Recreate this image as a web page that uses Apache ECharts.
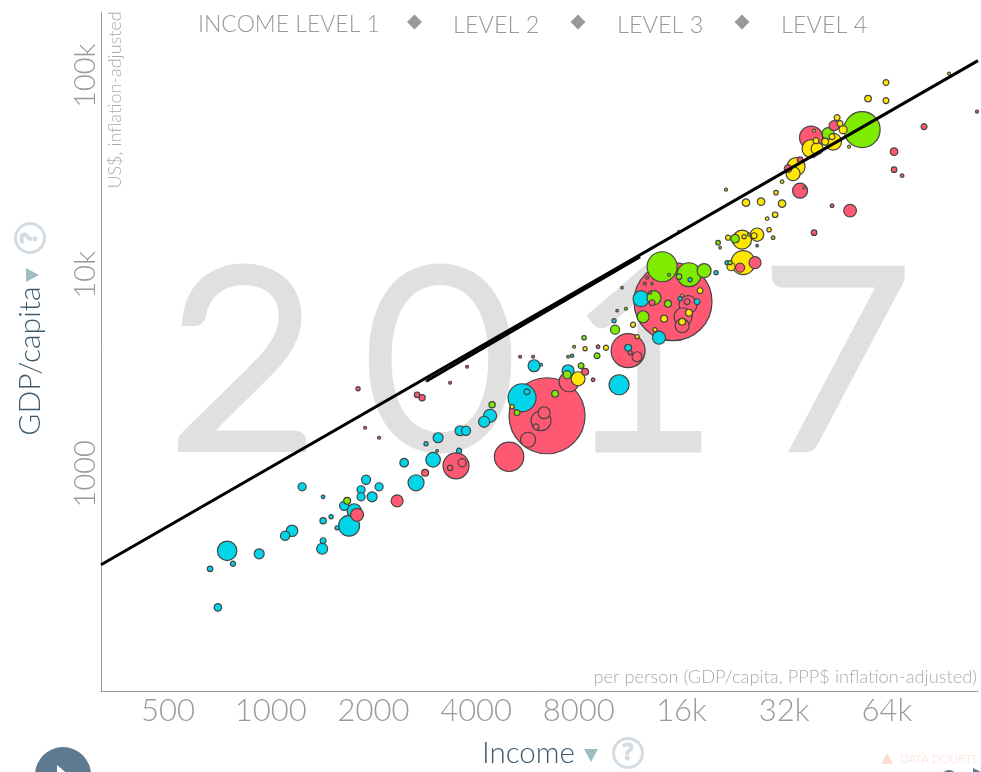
<!DOCTYPE html>
<html>
	<head>
		<meta charset="UTF-8">
		<title>GDP/capita vs Income 2017</title>
		<script src="https://cdn.jsdelivr.net/npm/echarts@6/dist/echarts.min.js"></script>
		<style>
			html, body { margin: 0; padding: 0; background: #fff; overflow: hidden; }
			#chart { width: 981px; height: 772px; }
		</style>
	</head>
	<body>
		<div id="chart"></div>
		<script>
		// each bubble: [income, gdp per capita, population in millions]
		var africa = [[6200,3530,2],[5916,3490,33],[5456,2410,180],[5640,2583,8],[4396,1956,39],[4222,1825,28],[3737,1645,19],[3590,1645,23],[3095,1517,23],[2853,1415,4],[3074,1305,1.5],[3566,1305,6],[2992,1176,49],[2461,1136,17],[2667,901,59],[1903,933,19],[2078,860,15],[1840,831,15],[1840,766,15],[1983,766,23],[1697,548,101],[1756,652,45],[1641,690,19],[1565,535,4],[1424,580,9],[1503,608,4],[1424,766,3],[1236,860,15],[1155,517,30],[1102,488,20],[1424,461,8],[1415,420,28],[925,396,23],[745,410,87],[775,353,6],[664,333,7],[700,213,13],[7441,3294,33],[7646,3917,2.7],[10500,2800,92],[13750,4825,39],[12180,7580,59],[10150,5875,4],[11160,4298,11],[15850,7580,4],[17780,7320,8],[16950,9443,4],[20210,10240,4],[21770,11500,4],[26650,13990,1.5]];
		var americas = [[54140,53590,300],[14040,10970,207],[16830,10000,132],[18640,10480,45],[15740,9775,7],[14710,10000,2],[13120,9020,1.3],[10710,8607,1.5],[13290,7667,45],[14610,7156,11],[12350,6150,33],[10360,6597,1.5],[11000,6750,2],[10220,5294,19],[8290,4825,4.5],[7750,4348,2],[9050,3917,8],[7441,3872,2],[8124,3490,8],[7392,3145,15],[6816,2525,11],[5275,2026,8],[4456,2223,9],[1675,731,11],[21610,26760,2],[29700,15350,3],[22970,15170,17],[20480,14490,5],[20760,13670,1.5],[22210,11500,4],[43030,51170,33],[25240,15900,2]];
		var asia = [[15110,7320,1400],[6456,1956,1330],[11160,4152,266],[4997,1217,199],[3493,1096,155],[3639,1136,15],[3356,1071,7],[2835,1012,11],[2347,731,33],[1791,622,39],[2686,2494,7],[2778,2410,9],[1803,2675,4],[1891,1703,2],[2078,1517,2],[3356,2867,2],[3764,3449,2],[2873,2934,1.3],[5383,3872,2],[5876,3872,2],[6329,2026,33],[6200,1847,92],[5994,1722,8],[5680,1482,52],[7490,2900,92],[8346,3255,11],[8810,2968,3],[9110,4348,3],[11310,4057,4],[11860,3872,23],[13120,7237,8],[12940,8125,2],[12680,9664,2],[12500,9020,2],[16610,7320,8],[16720,7072,75],[16170,6150,75],[16070,5544,45],[26290,11500,33],[23760,10850,19],[35630,26450,52],[38370,48850,122],[44820,56100,23],[32850,34120,13],[35630,37870,7],[117600,66000,2],[82270,55470,8],[67190,41540,13],[67190,33730,7],[70920,31460,3],[44210,22230,3],[49930,20990,37],[39150,16270,7]];
		var europe = [[38370,43010,75],[39960,43010,33],[45740,61570,8],[46670,57460,8],[47630,53590,15],[44510,46640,66],[42180,46640,11],[44210,49400,8],[39680,47180,8],[39150,52970,2],[49590,44010,2],[56370,76720,10],[63630,92350,8],[63630,74970,8],[97390,102500,2],[34670,34910,75],[33980,32210,45],[31550,29360,3],[36610,27380,1.5],[30290,25840,4.5],[24730,23030,13],[27380,23290,13],[31550,22770,13],[30100,20020,7],[28520,19130,3],[28900,16840,4.5],[15740,16450,2],[26650,15900,41],[24080,15000,83],[21910,15350,6],[24410,15530,4],[26120,15710,8],[24250,11500,132],[22360,10970,15],[18140,8315,8],[16070,7845,2],[16830,6446,11],[16070,5806,11],[14230,6012,11],[11540,5606,6],[13380,5294,4],[11860,4880,4],[8346,4249,4],[9613,4298,6],[7960,3002,45],[5100,2170,4]];

		var trendLine = [[318,349],[118400,119100]];
		var trendOverlap = [[2873,2934],[12100,12320]];

		var xTicks = [500,1000,2000,4000,8000,16000,32000,64000];
		var yTicks = [1000,10000,100000];
		var legendItems = ['INCOME LEVEL 1','LEVEL 2','LEVEL 3','LEVEL 4'];
		var year = ['2','0','1','7'];

		var regionColors = ['#00d5e9','#7feb00','#ff5872','#ffe700'];
		var gray = '#999999';
		var thin = 'Lato';
		var dark = '#3f5a6c';
		var ring = '#d3dce3';
		var teal = '#9fbdc3';

		function fmt(v) {
			return v >= 10000 ? (v / 1000) + 'k' : String(v);
		}

		// biggest first so small countries stay on top
		var bubbles = [];
		[africa, americas, asia, europe].forEach(function (list, region) {
			list.forEach(function (d) {
				bubbles.push([d[0], d[1], d[2], region]);
			});
		});
		bubbles.sort(function (a, b) { return b[2] - a[2]; });

		function label(text, x, y, size, color, extra) {
			var st = { text: text, x: 0, y: 0, font: '300 ' + size + 'px ' + thin, fill: color, textAlign: 'left', textVerticalAlign: 'middle' };
			for (var k in (extra && extra.style)) st[k] = extra.style[k];
			return { type: 'text', x: x, y: y, rotation: (extra && extra.rotation) || 0, z: 5, silent: true, style: st };
		}
		function digit(text, x) {
			return { type: 'text', x: x, y: 366, scaleX: 1.04, z: -10, silent: true, style: {
				text: text, font: '100 238px Lato', fill: '#e0e0e0', stroke: '#e0e0e0', lineWidth: 19, lineJoin: 'round',
				textAlign: 'center', textVerticalAlign: 'middle'
			} };
		}
		function diamond(x) {
			return { type: 'polygon', z: 5, silent: true, shape: { points: [[x, 14.5], [x + 7.5, 22], [x, 29.5], [x - 7.5, 22]] }, style: { fill: gray } };
		}
		function helpRing(x, y, rot) {
			return [
				{ type: 'circle', z: 5, silent: true, shape: { cx: x, cy: y, r: 14.5 }, style: { fill: '#fff', stroke: ring, lineWidth: 3 } },
				{ type: 'text', x: x, y: y, rotation: rot, z: 6, silent: true, style: { text: '?', font: 'bold 23px "Noto Sans"', fill: ring, stroke: ring, lineWidth: 1, textAlign: 'center', textVerticalAlign: 'middle' } }
			];
		}

		var graphics = [
			digit(year[0], 243), digit(year[1], 440), digit(year[2], 642), digit(year[3], 836),
			label(legendItems[0], 198, 25, 23, gray),
			label(legendItems[1], 453, 25, 23.5, gray),
			label(legendItems[2], 617, 25, 23.5, gray),
			label(legendItems[3], 781, 25, 23.5, gray),
			diamond(414.5), diamond(578), diamond(742),
			label('US$, inflation-adjusted', 115, 100, 18, '#aaaaaa', { rotation: Math.PI / 2, style: { textAlign: 'center' } }),
			label('per person (GDP/capita, PPP$ inflation-adjusted)', 977, 677, 18.3, '#aaaaaa', { style: { textAlign: 'right' } }),
			label('GDP/capita', 30, 361, 30, dark, { rotation: Math.PI / 2, style: { textAlign: 'center' } }),
			{ type: 'polygon', z: 5, silent: true, shape: { points: [[26, 268], [39, 275], [26, 282]] }, style: { fill: teal } },
			label('Income', 482, 753, 29.5, dark),
			{ type: 'polygon', z: 5, silent: true, shape: { points: [[584, 749], [598, 749], [591, 762]] }, style: { fill: teal } },
			{ type: 'circle', z: 5, silent: true, shape: { cx: 63, cy: 775, r: 28 }, style: { fill: '#5e7a90' } },
			{ type: 'polygon', z: 6, silent: true, shape: { points: [[57, 765], [70, 776], [57, 787]] }, style: { fill: '#fff' } },
			{ type: 'polygon', z: 5, silent: true, shape: { points: [[887, 753], [893, 764], [881, 764]] }, style: { fill: '#fddcd2' } },
			label('DATA DOUBTS', 900, 759, 11.5, '#fddcd2'),
			{ type: 'circle', z: 5, silent: true, shape: { cx: 949, cy: 778, r: 7 }, style: { fill: 'none', stroke: '#5e7a90', lineWidth: 2 } },
			{ type: 'polygon', z: 5, silent: true, shape: { points: [[973, 768], [981, 772], [973, 772]] }, style: { fill: '#5e7a90' } }
		].concat(helpRing(30, 238, Math.PI / 2), helpRing(628, 753, 0));

		var chart = echarts.init(document.getElementById('chart'));
		chart.setOption({
			animation: false,
			backgroundColor: '#fff',
			textStyle: { fontFamily: thin },
			graphic: graphics,
			grid: { left: 101, right: 3, top: 12, bottom: 81 },
			xAxis: {
				type: 'log', logBase: 2, min: 318, max: 118400,
				splitLine: { show: false },
				axisLine: { lineStyle: { color: gray, width: 1 } },
				axisTick: { show: false },
				axisLabel: { customValues: xTicks, formatter: fmt, color: gray, fontSize: 31, fontWeight: 300, fontFamily: thin, margin: 4 }
			},
			yAxis: {
				type: 'log', logBase: 10, min: 81, max: 209000,
				splitLine: { show: false },
				axisLine: { lineStyle: { color: gray, width: 1 } },
				axisTick: { show: false },
				axisLabel: { customValues: yTicks, formatter: fmt, rotate: 90, color: gray, fontSize: 29, fontWeight: 300, fontFamily: thin, margin: 1 }
			},
			series: [{
				type: 'scatter',
				data: bubbles,
				symbolSize: function (val) { return 2 * 1.042 * Math.sqrt(val[2]); },
				itemStyle: {
					color: function (p) { return regionColors[p.data[3]]; },
					borderColor: '#444', borderWidth: 1.2, opacity: 1
				},
				silent: true
			}, {
				type: 'line', data: trendLine, showSymbol: false, silent: true, z: 4,
				lineStyle: { color: '#000', width: 3 }
			}, {
				type: 'line', data: trendOverlap, showSymbol: false, silent: true, z: 4,
				lineStyle: { color: '#000', width: 3 }
			}]
		});
		</script>
	</body>
</html>
